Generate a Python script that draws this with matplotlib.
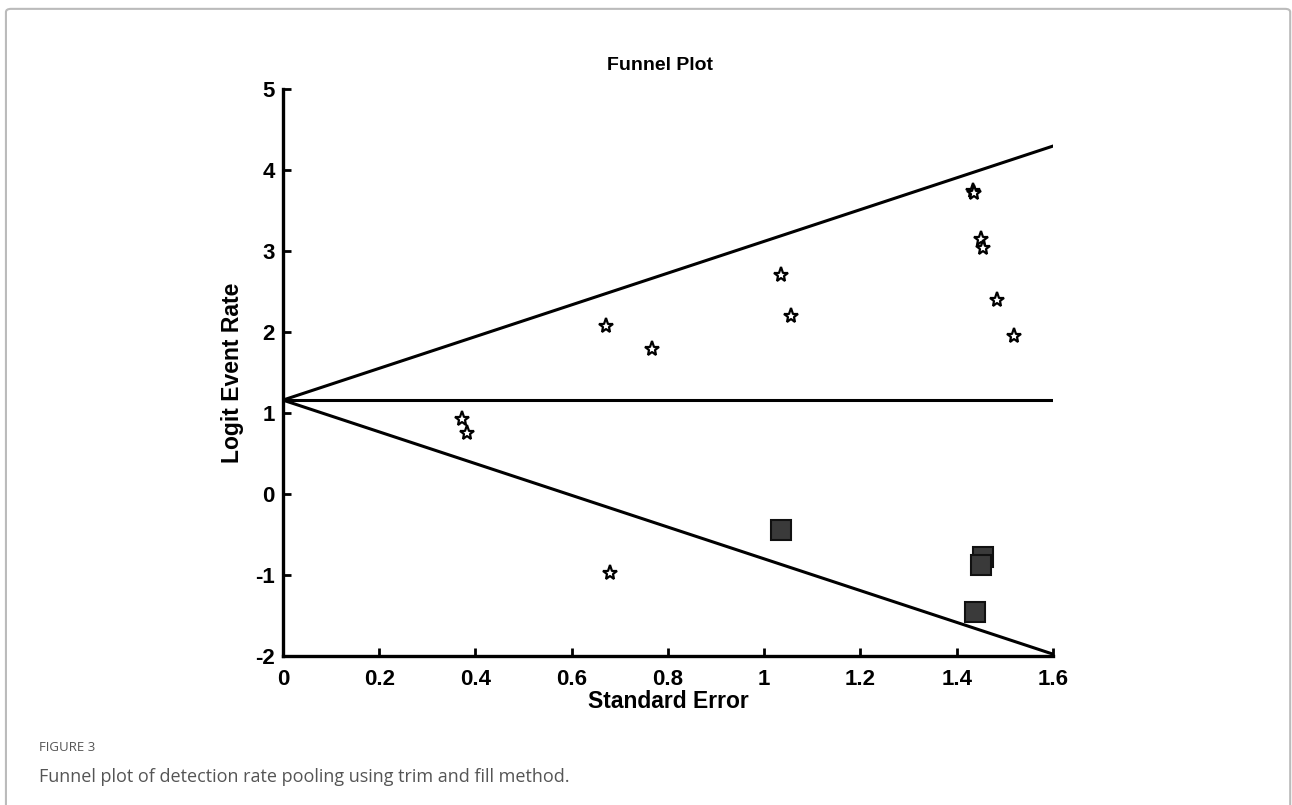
#funnel plot with trim and fill

import matplotlib.pyplot as plt
from matplotlib.patches import FancyBboxPatch
import numpy as np

# observed studies (standard error, logit event rate)
se_obs = [0.373, 0.383, 0.671, 0.679, 0.767, 1.035, 1.056, 1.433, 1.436, 1.450, 1.454, 1.483, 1.518]
logit_obs = [0.93, 0.75, 2.07, -0.97, 1.79, 2.70, 2.20, 3.74, 3.72, 3.15, 3.04, 2.40, 1.95]

# imputed studies (trim and fill)
se_imp = [1.035, 1.454, 1.450, 1.437]
logit_imp = [-0.44, -0.78, -0.87, -1.46]

pooled = 1.16
se_range = [0, 1.6]

fig = plt.figure(figsize=(12.92, 8.05), dpi=100)
ax = fig.add_axes([0.219, 0.185, 0.596, 0.7044])

se_line = np.array(se_range)
ax.plot(se_line, pooled + 1.96 * se_line, color='black', linewidth=2.2, zorder=2)
ax.plot(se_line, pooled - 1.96 * se_line, color='black', linewidth=2.2, zorder=2)
ax.plot(se_line, [pooled, pooled], color='black', linewidth=2.2, zorder=2)

ax.plot(se_obs, logit_obs, linestyle='none', marker='*', markersize=11,
        markerfacecolor='white', markeredgecolor='black', markeredgewidth=1.6, zorder=3)
ax.plot(se_imp, logit_imp, linestyle='none', marker='s', markersize=14.5,
        markerfacecolor='#3a3a3a', markeredgecolor='#111111', markeredgewidth=1.5, zorder=3)

ax.set_xlim(0, 1.6)
ax.set_ylim(-2, 5)
ax.set_xticks([0, 0.2, 0.4, 0.6, 0.8, 1.0, 1.2, 1.4, 1.6])
ax.set_xticklabels(['0', '0.2', '0.4', '0.6', '0.8', '1', '1.2', '1.4', '1.6'])
ax.set_yticks(range(-2, 6))
ax.set_yticklabels(['-2', '-1', '0', '1', '2', '3', '4', '5'])

for side in ['top', 'right']:
    ax.spines[side].set_visible(False)
for side in ['left', 'bottom']:
    ax.spines[side].set_linewidth(2.4)

ax.tick_params(direction='in', length=6, width=2, labelsize=16)
ax.tick_params(axis='x', pad=9)
ax.tick_params(axis='y', pad=6)
for lab in ax.get_xticklabels() + ax.get_yticklabels():
    lab.set_fontweight('bold')
    lab.set_family('Liberation Sans')

ax.set_xlabel('Standard Error', fontsize=16.5, fontweight='bold', family='Liberation Sans', labelpad=0)
ax.set_ylabel('Logit Event Rate', fontsize=16.5, fontweight='bold', family='Liberation Sans', labelpad=8)
fig.text(0.511, 0.919, 'Funnel Plot', ha='center', va='center', fontsize=14,
         fontweight='bold', family='Liberation Sans')

# caption and frame
fig.text(0.0302, 0.072, 'FIGURE 3', fontsize=9.5, color='#555555', family='Open Sans', va='center')
fig.text(0.0302, 0.035, 'Funnel plot of detection rate pooling using trim and fill method.',
         fontsize=13, color='#555555', family='Open Sans', va='center')
fig.patches.append(FancyBboxPatch((0.0046, -0.05), 0.994, 1.039,
                                  boxstyle='round,pad=0,rounding_size=0.004',
                                  transform=fig.transFigure, fill=False,
                                  edgecolor='#bbbbbb', linewidth=1.5))

plt.savefig('out.png', dpi=100)
